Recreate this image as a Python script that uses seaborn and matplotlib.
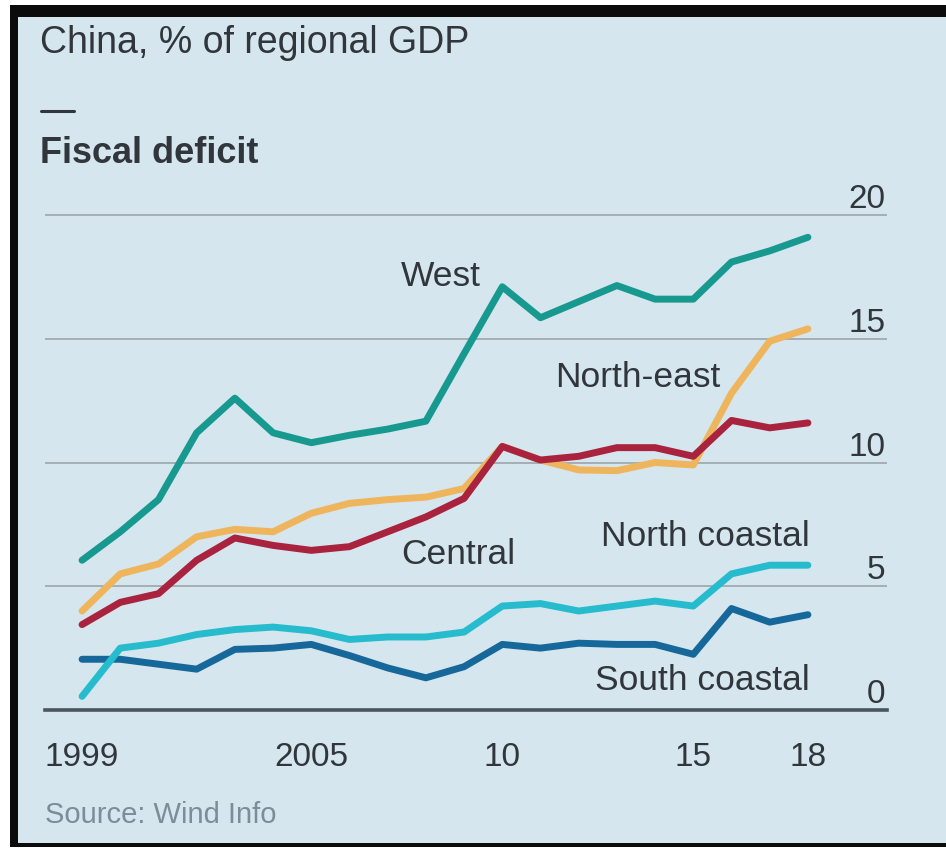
import matplotlib
matplotlib.use("Agg")
import matplotlib.pyplot as plt
import matplotlib.transforms as mtransforms
from matplotlib.patches import Rectangle
from matplotlib.lines import Line2D
import pandas as pd
import seaborn as sns

# Fiscal deficit by region, % of regional GDP
years = list(range(1999, 2019))
west = [6.05, 7.2, 8.5, 11.2, 12.6, 11.2, 10.8, 11.1, 11.35, 11.67,
        14.4, 17.1, 15.85, 16.5, 17.15, 16.6, 16.6, 18.1, 18.55, 19.1]
north_east = [4.0, 5.5, 5.9, 7.0, 7.3, 7.2, 7.95, 8.35, 8.5, 8.6,
              8.95, 10.65, 10.1, 9.7, 9.67, 10.0, 9.9, 12.8, 14.9, 15.4]
central = [3.45, 4.35, 4.7, 6.05, 6.95, 6.65, 6.45, 6.6, 7.2, 7.8,
           8.55, 10.65, 10.1, 10.25, 10.6, 10.6, 10.25, 11.7, 11.4, 11.6]
north_coastal = [0.55, 2.5, 2.7, 3.05, 3.25, 3.35, 3.2, 2.85, 2.95, 2.95,
                 3.15, 4.2, 4.3, 4.0, 4.2, 4.4, 4.2, 5.5, 5.85, 5.85]
south_coastal = [2.05, 2.05, 1.85, 1.65, 2.45, 2.5, 2.65, 2.2, 1.7, 1.3,
                 1.75, 2.65, 2.5, 2.7, 2.65, 2.65, 2.25, 4.1, 3.55, 3.85]

regions = ["North-east", "Central", "South coastal", "North coastal", "West"]
series = [north_east, central, south_coastal, north_coastal, west]
colors = ["#efb55c", "#a9233f", "#17689a", "#27bccd", "#17998f"]

y_ticks = [0, 5, 10, 15, 20]
x_label_years = [1999, 2005, 2010, 2015, 2018]
x_label_text = ["1999", "2005", "10", "15", "18"]
long_tick_years = [2000, 2005, 2010, 2015]

# label anchors: (text, x, y, horizontal alignment)
line_labels = [
    ("West", 2008.4, 17.5, "center"),
    ("North-east", 2013.55, 13.45, "center"),
    ("Central", 2008.85, 6.3, "center"),
    ("North coastal", 2018.06, 7.0, "right"),
    ("South coastal", 2018.06, 1.2, "right"),
]

df = pd.DataFrame(
    [(r, y, v) for r, vals in zip(regions, series) for y, v in zip(years, vals)],
    columns=["region", "year", "value"],
)

sns.set_theme(style="white")
plt.rcParams["font.family"] = ["Liberation Sans", "DejaVu Sans"]

W, H = 946, 848
fig = plt.figure(figsize=(W / 100, H / 100), dpi=100)
fig.patch.set_facecolor("white")

BG = "#d6e6ee"
TXT = "#30363b"

def fx(px):
    return px / W

def fy(py):
    return 1 - py / H

# frame and panel background
fig.add_artist(Rectangle((fx(10), fy(847)), fx(W - 10), (847 - 5) / H,
                         transform=fig.transFigure, facecolor="#0b0b0b",
                         edgecolor="none", zorder=-20))
fig.add_artist(Rectangle((fx(18), fy(843)), fx(W - 18), (843 - 17) / H,
                         transform=fig.transFigure, facecolor=BG,
                         edgecolor="none", zorder=-19))

x0, x1 = 1998.03, 2020.07
y0, y1 = 0, 21
ax_left, ax_right = 45, 887
ax_bottom = 710
ax_top = ax_bottom - (y1 - y0) * 24.75
ax = fig.add_axes([fx(ax_left), fy(ax_bottom), fx(ax_right - ax_left),
                   (ax_bottom - ax_top) / H])
ax.set_facecolor("none")

sns.lineplot(data=df, x="year", y="value", hue="region", hue_order=regions,
             palette=dict(zip(regions, colors)), linewidth=5.0, legend=False,
             ax=ax, solid_capstyle="round", solid_joinstyle="round")

ax.set_xlim(x0, x1)
ax.set_ylim(y0, y1)
ax.set_xlabel("")
ax.set_ylabel("")
for s in ["top", "right", "left"]:
    ax.spines[s].set_visible(False)
ax.spines["bottom"].set_color("#4a555e")
ax.spines["bottom"].set_linewidth(2.6)
ax.spines["bottom"].set_zorder(1)

# horizontal gridlines
ax.set_yticks(y_ticks)
ax.yaxis.grid(True, color="#a4aeb5", linewidth=1.4)
ax.set_axisbelow(True)
ax.tick_params(axis="y", length=0, labelleft=False)

# year ticks: long ones at the round years, short ones elsewhere
ax.set_xticks(long_tick_years)
ax.set_xticks([y for y in years if y not in long_tick_years], minor=True)
ax.tick_params(axis="x", which="major", length=12, width=2.0,
               color="#4a555e", labelbottom=False, direction="out")
ax.tick_params(axis="x", which="minor", length=8, width=2.0,
               color="#4a555e", labelbottom=False, direction="out")

xt = ax.get_xaxis_transform()
for yr, lab in zip(x_label_years, x_label_text):
    ax.text(yr, 0, lab, transform=mtransforms.offset_copy(xt, fig, 0, -40, units="points"),
            ha="center", va="baseline", fontsize=24, color=TXT)

yt = ax.get_yaxis_transform()
for v in y_ticks:
    ax.text(0.9985, v, str(v),
            transform=mtransforms.offset_copy(yt, fig, 0, 5, units="points"),
            ha="right", va="baseline", fontsize=24, color=TXT)

for text, lx, ly, ha in line_labels:
    ax.text(lx, ly, text, ha=ha, va="center", fontsize=25.5, color=TXT)

fig.text(fx(40), fy(53), "China, % of regional GDP", fontsize=27, color=TXT,
         ha="left", va="baseline")
fig.add_artist(Line2D([fx(41), fx(74)], [fy(111), fy(111)],
                      transform=fig.transFigure, color=TXT, linewidth=2.2))
fig.text(fx(40), fy(163), "Fiscal deficit", fontsize=26, color=TXT,
         fontweight="bold", ha="left", va="baseline")
fig.text(fx(45), fy(823), "Source: Wind Info", fontsize=21, color="#7d8d98",
         ha="left", va="baseline")

fig.savefig("out.png", dpi=100, facecolor=fig.get_facecolor())
